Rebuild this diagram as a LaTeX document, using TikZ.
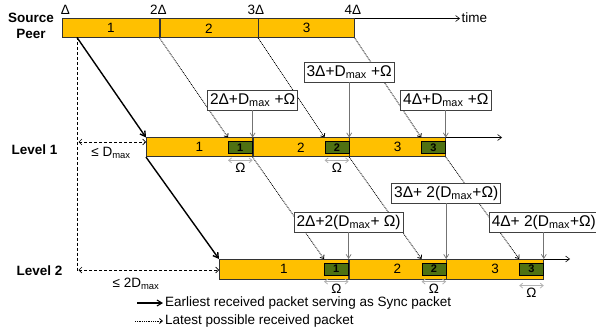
\documentclass[tikz,border=0pt]{standalone}
\usepackage{fontspec}
\setmainfont{Liberation Sans}
\usetikzlibrary{arrows.meta}
\definecolor{barorange}{RGB}{255,192,0}
\definecolor{pktgreen}{RGB}{79,113,18}
\begin{document}
\begin{tikzpicture}[x=1pt,y=-1pt,
  seg/.style={draw=black!80, fill=barorange, line width=0.6pt, minimum height=19pt,
    inner sep=0pt, anchor=north west, font=\fontsize{13.5}{13.5}\selectfont},
  pkt/.style={draw=black, fill=pktgreen, line width=0.6pt, minimum width=24pt,
    minimum height=11.5pt, inner sep=0pt, anchor=east, font=\bfseries\fontsize{11}{11}\selectfont},
  lbl/.style={draw=black!75, fill=white, line width=0.6pt, minimum height=20pt,
    inner xsep=2.5pt, inner ysep=0pt, font=\fontsize{15.5}{15.5}\selectfont},
  txt/.style={inner sep=0pt, font=\fontsize{13.5}{13.5}\selectfont},
  head/.style={inner sep=0pt, align=center, font=\bfseries\fontsize{13.5}{16}\selectfont},
  axis/.style={line width=0.6pt, -{Straight Barb[length=4pt,width=6pt]}},
  sync/.style={line width=1.4pt, -{Straight Barb[length=5pt,width=6pt]}},
  late/.style={line width=0.8pt, dash pattern=on 0.9pt off 0.9pt, -{Straight Barb[length=3pt,width=5pt]}},
  vconn/.style={draw=black!55, line width=0.7pt, -{Straight Barb[length=4pt,width=5pt]}},
  span/.style={dash pattern=on 3pt off 2pt, line width=0.6pt, {Straight Barb[length=3pt,width=6pt]}-{Straight Barb[length=3pt,width=6pt]}},
  omg/.style={draw=black!30, line width=0.8pt, {Straight Barb[length=3pt,width=5pt]}-{Straight Barb[length=3pt,width=5pt]}}
]
\useasboundingbox (0,0) rectangle (596,331);

% ---- source peer timeline ----
\node[seg, minimum width=97pt] (s1) at (62,18.5) {1};
\node[seg, minimum width=98pt] (s2) at (s1.north east) {2};
\node[seg, minimum width=96pt] (s3) at (s2.north east) {3};
\node[head] (srclbl) at (31,25.5) {Source\\Peer};
\node[txt, anchor=base] (t1) at (65.5,15) {Δ};
\node[txt, anchor=base] (t2) at (158.5,15) {2Δ};
\node[txt, anchor=base] (t3) at (256,15) {3Δ};
\node[txt, anchor=base] (t4) at (353,15) {4Δ};
\coordinate (send) at (460,18.5);
\draw[axis] (s3.north east) -- (send);
\node[txt, anchor=west] (time) at (461.5,17.5) {time};

% ---- level 1 timeline ----
\node[seg, minimum width=106pt] (a1) at (146,137.5) {1};
\node[seg, minimum width=96pt] (a2) at (a1.north east) {2};
\node[seg, minimum width=96pt] (a3) at (a2.north east) {3};
\node[pkt] (g11) at (a1.east) {1};
\node[pkt] (g12) at (a2.east) {2};
\node[pkt] (g13) at (a3.east) {3};
\coordinate (aend) at (502,137.5);
\draw[axis] (a3.north east) -- (aend);
\node[head] (lv1) at (34.5,150) {Level 1};

% ---- level 2 timeline ----
\node[seg, minimum width=129pt, minimum height=19.5pt] (b1) at (219,259) {1};
\node[seg, minimum width=97pt, minimum height=19.5pt] (b2) at (b1.north east) {2};
\node[seg, minimum width=97pt, minimum height=19.5pt] (b3) at (b2.north east) {3};
\node[pkt, minimum height=12.5pt] (g21) at (b1.east) {1};
\node[pkt, minimum height=12.5pt] (g22) at (b2.east) {2};
\node[pkt, minimum height=12.5pt] (g23) at (b3.east) {3};
\coordinate (bend) at (570,259);
\draw[axis] (b3.north east) -- (bend);
\node[head] (lv2) at (39.5,271) {Level 2};

% ---- delay bounds ----
\coordinate (o0) at (77,37.5);
\coordinate (o1) at (77,272);
\coordinate (d1) at (77,142);
\coordinate (d2) at (77,270);
\draw[dash pattern=on 3pt off 2pt, line width=0.6pt] (o0) -- (o1);
\draw[span] ([xshift=1.5pt]d1) -- (a1.west |- d1);
\draw[span] ([xshift=1.5pt]d2) -- (b1.west |- d2);
\node[txt] (dm1) at (111,153) {≤ D\textsubscript{max}};
\node[txt] (dm2) at (136,284) {≤ 2D\textsubscript{max}};

% ---- earliest (sync) packets ----
\draw[sync] (o0) -- (a1.north west);
\draw[sync] (a1.south west) -- (b1.north west);

% ---- latest possible packets ----
\draw[late] (s1.south east) -- (g11.west |- a1.north);
\draw[late] (s2.south east) -- (g12.west |- a2.north);
\draw[late] (s3.south east) -- (g13.west |- a3.north);
\draw[late] (a1.south east) -- (g21.west |- b1.north);
\draw[late] (a2.south east) -- (g22.west |- b2.north);
\draw[late] (a3.south east) -- (g23.west |- b3.north);

% ---- deadline labels ----
\node[lbl] (B1) at ([yshift=37.5pt]a1.north east) {2Δ+D\textsubscript{max} +Ω};
\node[lbl] (B2) at ([yshift=65.5pt]a2.north east) {3Δ+D\textsubscript{max} +Ω};
\node[lbl] (B3) at ([yshift=37.5pt]a3.north east) {4Δ+D\textsubscript{max} +Ω};
\node[lbl] (C1) at ([yshift=37pt]b1.north east) {2Δ+2(D\textsubscript{max}+ Ω)};
\node[lbl] (C2) at ([yshift=66pt]b2.north east) {3Δ+ 2(D\textsubscript{max}+Ω)};
\node[lbl] (C3) at ([yshift=37pt]b3.north east) {4Δ+ 2(D\textsubscript{max}+Ω)};
\draw[vconn] (B1.south) -- (a1.north east);
\draw[vconn] (B2.south) -- (a2.north east);
\draw[vconn] (B3.south) -- (a3.north east);
\draw[vconn] (C1.south) -- (b1.north east);
\draw[vconn] (C2.south) -- (b2.north east);
\draw[vconn] (C3.south) -- (b3.north east);

% ---- packet windows ----
\draw[omg] ([yshift=-7pt]g11.south west) -- ([yshift=-7pt]g11.south east)
  node[txt, midway, below=2.5pt] (w11) {Ω};
\draw[omg] ([yshift=-7pt]g12.south west) -- ([yshift=-7pt]g12.south east)
  node[txt, midway, below=2.5pt] (w12) {Ω};
\draw[omg] ([yshift=-6pt]g21.south west) -- ([yshift=-6pt]g21.south east)
  node[txt, midway, below=2.5pt] (w21) {Ω};
\draw[omg] ([yshift=-6pt]g22.south west) -- ([yshift=-6pt]g22.south east)
  node[txt, midway, below=2.5pt] (w22) {Ω};
\draw[omg] ([yshift=-10pt]g23.south west) -- ([yshift=-10pt]g23.south east)
  node[txt, midway, below=2pt] (w23) {Ω};

% ---- legend ----
\coordinate (k1a) at (137,303);
\coordinate (k1b) at (163,303);
\coordinate (k2a) at (135,321);
\coordinate (k2b) at (163,321);
\draw[sync, line width=1.1pt] (k1a) -- (k1b);
\draw[late] (k2a) -- (k2b);
\node[txt, anchor=west] (k1) at ([xshift=2pt]k1b) {Earliest received packet serving as Sync packet};
\node[txt, anchor=west] (k2) at ([xshift=2pt]k2b) {Latest possible received packet};
\end{tikzpicture}
\end{document}
